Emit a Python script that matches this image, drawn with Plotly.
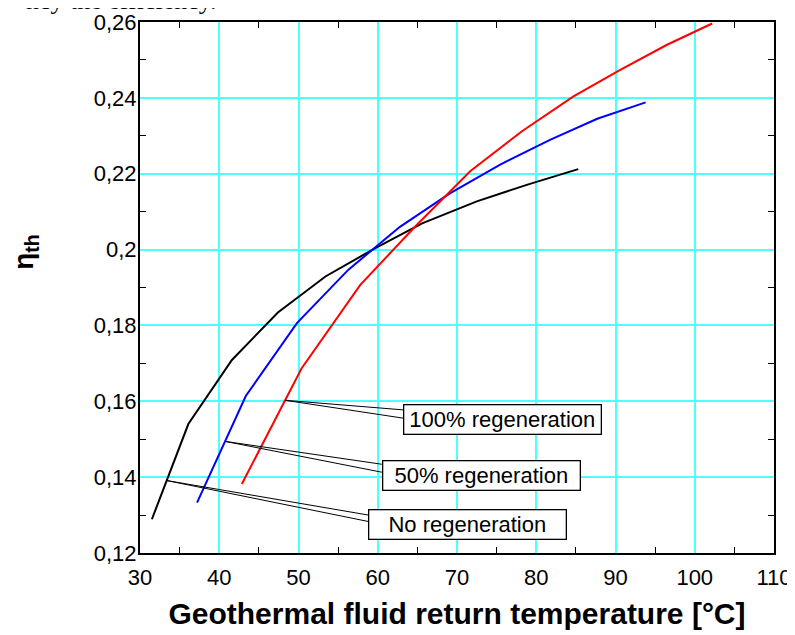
import numpy as np
import plotly.graph_objects as go

# ---- data ----
temp_none = [31.5, 36.1, 41.6, 47.4, 53.4, 59.7, 65.6, 72.5, 79.0, 85.3]
eta_none = [0.1289, 0.1540, 0.1709, 0.1834, 0.1929, 0.2004, 0.2069, 0.2127, 0.2172, 0.2212]

temp_50 = [37.2, 43.35, 49.8, 56.3, 62.8, 69.1, 75.45, 81.8, 87.7, 93.8]
eta_50 = [0.1333, 0.1614, 0.1806, 0.1947, 0.2060, 0.2148, 0.2224, 0.2290, 0.2345, 0.2388]

temp_100 = [42.85, 50.4, 57.8, 64.6, 71.7, 78.2, 84.7, 90.6, 96.5, 102.2]
eta_100 = [0.1382, 0.1687, 0.1907, 0.2058, 0.2207, 0.2312, 0.2404, 0.2474, 0.2540, 0.2596]

series_names = ["No regeneration", "50% regeneration", "100% regeneration"]
series_colors = ["#000000", "#0000FF", "#FF0000"]

# callout labels
label_texts = ["No regeneration", "50% regeneration", "100% regeneration"]
label_anchor_x = [33.37, 40.73, 48.31]          # point on the curve
label_box_x = [71.3, 73.1, 75.77]              # box centre
label_box_y = [0.1275, 0.1404, 0.1553]
leader_end_x = [58.83, 60.52, 63.25]           # box left edge
leader_end_y_top = [0.1300, 0.1434, 0.15773]
leader_end_y_bot = [0.1283, 0.1413, 0.15554]

x_range = [30, 110]
y_range = [0.12, 0.26]

FONT = "Liberation Sans, Arial, sans-serif"

fig = go.Figure()
all_x = [temp_none, temp_50, temp_100]
all_y = [eta_none, eta_50, eta_100]
for xs, ys, name, col in zip(all_x, all_y, series_names, series_colors):
    fig.add_trace(go.Scatter(x=xs, y=ys, mode="lines", name=name,
                             line=dict(color=col, width=2), showlegend=False))

shapes = []
annotations = []
for i, txt in enumerate(label_texts):
    ax = label_anchor_x[i]
    ay = float(np.interp(ax, all_x[i], all_y[i]))
    for ey in (leader_end_y_top[i], leader_end_y_bot[i]):
        shapes.append(dict(type="line", xref="x", yref="y", x0=ax, y0=ay,
                           x1=leader_end_x[i], y1=ey,
                           line=dict(color="black", width=1)))
    annotations.append(dict(x=label_box_x[i], y=label_box_y[i], xref="x", yref="y",
                            text=txt, showarrow=False, align="center",
                            width=194, height=26, borderpad=1,
                            bordercolor="black", borderwidth=1.3, bgcolor="white",
                            font=dict(family=FONT, size=22, color="black")))

# y axis title (eta_th)
annotations.append(dict(x=-0.180, y=0.567, xref="paper", yref="paper",
                        xanchor="center", yanchor="middle",
                        text="<b>η<sub>th</sub></b>", showarrow=False, textangle=-90,
                        font=dict(family=FONT, size=28, color="black")))

# clipped line of document text at the very top
annotations.append(dict(x=0.125, y=1.0085, xref="paper", yref="paper",
                        xanchor="right", yanchor="bottom",
                        text="ncy the efficiency.", showarrow=False,
                        font=dict(family="Liberation Serif, Times New Roman, serif",
                                  size=26, color="black")))

axis_common = dict(showline=True, linecolor="black", linewidth=2, mirror="ticks",
                   showgrid=True, gridcolor="#4DFFFF", gridwidth=1.5,
                   ticks="", zeroline=False,
                   tickfont=dict(family=FONT, size=22, color="black"))

fig.update_xaxes(range=x_range, dtick=10, tick0=30, ticklabelstandoff=4,
                 minor=dict(tick0=35, dtick=10, ticks="inside", ticklen=6,
                            tickcolor="black", tickwidth=1, showgrid=False),
                 title=dict(text="<b>Geothermal fluid return temperature [°C]</b>",
                            font=dict(family=FONT, size=30, color="black"), standoff=14),
                 **axis_common)
fig.update_yaxes(range=y_range, dtick=0.02, tick0=0.12, ticklabelstandoff=-3,
                 minor=dict(tick0=0.13, dtick=0.02, ticks="inside", ticklen=6,
                            tickcolor="black", tickwidth=1, showgrid=False),
                 **axis_common)

# page body adds an 8 px offset, so the figure is 8 px smaller than the window
fig.update_layout(width=787, height=627,
                  margin=dict(l=132, r=21, t=14, b=82, autoexpand=False),
                  paper_bgcolor="white", plot_bgcolor="white",
                  separators=", ",
                  shapes=shapes, annotations=annotations,
                  font=dict(family=FONT, color="black"))

fig.write_html("out.html")
